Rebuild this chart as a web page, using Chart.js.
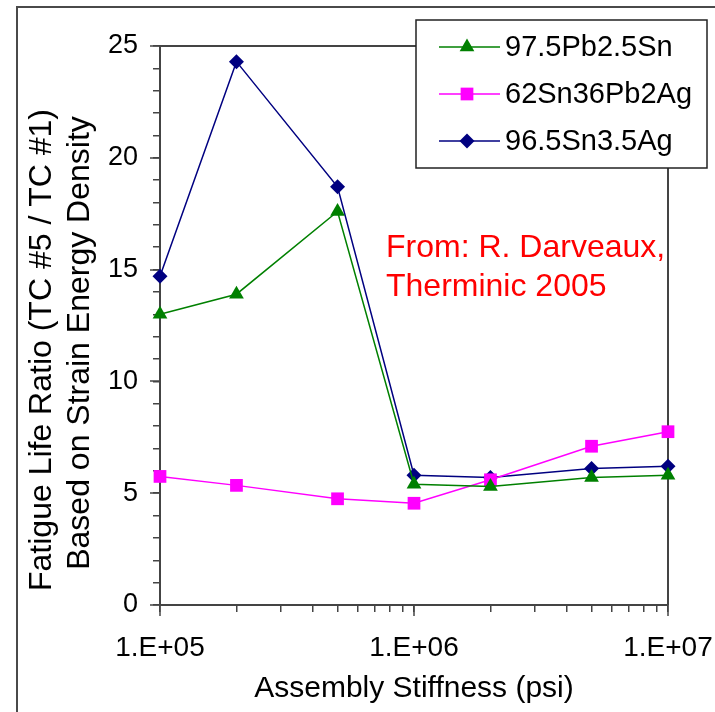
<!DOCTYPE html>
<html><head><meta charset="utf-8">
<script src="https://cdn.jsdelivr.net/npm/chart.js@4/dist/chart.umd.min.js"></script>
<style>
html,body{margin:0;padding:0;background:#fff;}
#wrap{position:relative;width:715px;height:712px;overflow:hidden;background:#fff;}
#frame{position:absolute;left:16px;top:6px;width:800px;height:800px;border-left:2px solid #4a4a4a;border-top:2px solid #4a4a4a;}
canvas{position:absolute;left:0;top:0;}
</style></head><body>
<div id="wrap"><div id="frame"></div><canvas id="c" width="715" height="712"></canvas></div>
<script>
// ---- data ----
const stiffness = [1e5, 2e5, 5e5, 1e6, 2e6, 5e6, 1e7];
const pb975sn25 = [13.0, 13.9, 17.6, 5.4, 5.3, 5.7, 5.8];
const sn62pb36ag2 = [5.75, 5.35, 4.75, 4.55, 5.6, 7.1, 7.75];
const sn965ag35 = [14.7, 24.3, 18.7, 5.8, 5.7, 6.1, 6.2];
const seriesNames = ['97.5Pb2.5Sn', '62Sn36Pb2Ag', '96.5Sn3.5Ag'];
const xTickValues = [1e5, 1e6, 1e7];
const xTickLabels = ['1.E+05', '1.E+06', '1.E+07'];
const yTickValues = [0, 5, 10, 15, 20, 25];
const yTickLabels = ['0', '5', '10', '15', '20', '25'];
const xTitle = 'Assembly Stiffness (psi)';
const yTitleLines = ['Fatigue Life Ratio (TC #5 / TC #1)', 'Based on Strain Energy Density'];
const noteLines = ['From: R. Darveaux,', 'Therminic 2005'];

const FONT = '"Liberation Sans", Arial, Helvetica, sans-serif';
Chart.defaults.font.family = FONT;

function pts(ys) { return stiffness.map((x, i) => ({ x: x, y: ys[i] })); }

function marker(ctx, style, x, y, r) {
  ctx.beginPath();
  if (style === 'triangle') {
    let rad = 0;
    ctx.moveTo(x + Math.sin(rad) * r, y - Math.cos(rad) * r);
    rad += 2 * Math.PI / 3;
    ctx.lineTo(x + Math.sin(rad) * r, y - Math.cos(rad) * r);
    rad += 2 * Math.PI / 3;
    ctx.lineTo(x + Math.sin(rad) * r, y - Math.cos(rad) * r);
  } else if (style === 'rect') {
    const s = Math.SQRT1_2 * r;
    ctx.rect(x - s, y - s, 2 * s, 2 * s);
  } else {
    ctx.moveTo(x - r, y); ctx.lineTo(x, y - r); ctx.lineTo(x + r, y); ctx.lineTo(x, y + r);
  }
  ctx.closePath();
  ctx.fill();
}

const decor = {
  id: 'decor',
  beforeDatasetsDraw(chart) {
    const ctx = chart.ctx, a = chart.chartArea;
    ctx.save();
    ctx.strokeStyle = '#444';
    ctx.lineWidth = 2;
    ctx.beginPath();
    ctx.moveTo(a.left - 1, a.top);
    ctx.lineTo(a.right, a.top);
    ctx.lineTo(a.right, a.bottom);
    ctx.stroke();
    // longer major ticks
    const xs = chart.scales.x, ys = chart.scales.y;
    ctx.lineWidth = 1.5;
    xTickValues.forEach(v => {
      const px = Math.round(xs.getPixelForValue(v));
      ctx.beginPath(); ctx.moveTo(px, a.bottom); ctx.lineTo(px, a.bottom + 11); ctx.stroke();
    });
    yTickValues.forEach(v => {
      const py = Math.round(ys.getPixelForValue(v));
      ctx.beginPath(); ctx.moveTo(a.left, py); ctx.lineTo(a.left - 10, py); ctx.stroke();
    });
    ctx.restore();
  },
  afterDraw(chart) {
    const ctx = chart.ctx;
    ctx.save();
    // y-axis title (two lines, rotated)
    ctx.fillStyle = '#000';
    ctx.font = '32px ' + FONT;
    ctx.textAlign = 'center';
    ctx.textBaseline = 'middle';
    [[42, 350], [80, 343]].forEach((p, i) => {
      ctx.save();
      ctx.translate(p[0], p[1]);
      ctx.rotate(-Math.PI / 2);
      ctx.fillText(yTitleLines[i], 0, 0);
      ctx.restore();
    });
    // annotation
    ctx.fillStyle = '#ff0000';
    ctx.font = '32px ' + FONT;
    ctx.textAlign = 'left';
    ctx.textBaseline = 'alphabetic';
    ctx.fillText(noteLines[0], 386, 257);
    ctx.fillText(noteLines[1], 386, 296);
    // legend
    const L = 416, T = 20, W = 291, H = 148;
    ctx.fillStyle = '#fff';
    ctx.fillRect(L, T, W, H);
    ctx.strokeStyle = '#222';
    ctx.lineWidth = 1.5;
    ctx.strokeRect(L, T, W, H);
    ctx.font = '29px ' + FONT;
    ctx.textBaseline = 'middle';
    chart.data.datasets.forEach((ds, i) => {
      const y = T + 27 + i * 47;
      ctx.strokeStyle = ds.borderColor;
      ctx.lineWidth = 1.5;
      ctx.beginPath(); ctx.moveTo(L + 23, y); ctx.lineTo(L + 84, y); ctx.stroke();
      ctx.fillStyle = ds.backgroundColor;
      marker(ctx, ds.pointStyle, L + 51, y, ds.pointRadius);
      ctx.fillStyle = '#000';
      ctx.fillText(ds.label, L + 89, y + 1);
    });
    ctx.restore();
  }
};

const colors = ['#008000', '#ff00ff', '#000080'];
const styles = ['triangle', 'rect', 'rectRot'];
const radii = [8.5, 9, 7.5];
const series = [pb975sn25, sn62pb36ag2, sn965ag35];

new Chart(document.getElementById('c'), {
  type: 'line',
  data: {
    datasets: series.map((s, i) => ({
      label: seriesNames[i],
      data: pts(s),
      borderColor: colors[i],
      backgroundColor: colors[i],
      pointBackgroundColor: colors[i],
      pointBorderColor: colors[i],
      pointStyle: styles[i],
      pointRadius: radii[i],
      pointBorderWidth: 0,
      borderWidth: 1.5,
      tension: 0,
      clip: false
    }))
  },
  options: {
    responsive: false,
    animation: false,
    devicePixelRatio: 1,
    layout: { padding: { left: 0, right: 47, top: 46, bottom: 0 } },
    plugins: { legend: { display: false }, tooltip: { enabled: false } },
    scales: {
      x: {
        type: 'logarithmic',
        min: stiffness[0],
        max: stiffness[stiffness.length - 1],
        afterBuildTicks: s => {
          s.ticks = s.ticks.filter(t => {
            const m = t.value / Math.pow(10, Math.floor(Math.log10(t.value) + 1e-9));
            return Math.abs(m - Math.round(m)) < 1e-6;
          });
        },
        afterFit: s => { s.height = 107; s.paddingLeft = 0; s.paddingRight = 0; },
        grid: { drawOnChartArea: false, tickLength: 7, color: '#444', lineWidth: 1.5 },
        border: { color: '#444', width: 2 },
        ticks: {
          autoSkip: false, maxRotation: 0, minRotation: 0, padding: 19,
          color: '#000', font: { size: 28 },
          callback: v => {
            const i = xTickValues.findIndex(t => Math.abs(t - v) / t < 1e-6);
            return i >= 0 ? xTickLabels[i] : '';
          }
        },
        title: { display: true, text: xTitle, color: '#000', font: { size: 30 }, padding: { top: 0, bottom: 5 } }
      },
      y: {
        min: 0, max: 25,
        afterFit: s => { s.width = 160; s.paddingTop = 0; s.paddingBottom = 0; },
        grid: { drawOnChartArea: false, tickLength: 7, color: '#444', lineWidth: 1.5 },
        border: { color: '#444', width: 2 },
        ticks: {
          stepSize: 1, autoSkip: false, padding: 15, color: '#000', font: { size: 27 },
          callback: v => {
            const i = yTickValues.indexOf(v);
            return i >= 0 ? yTickLabels[i] : '';
          }
        }
      }
    }
  },
  plugins: [decor]
});
</script>
</body></html>
